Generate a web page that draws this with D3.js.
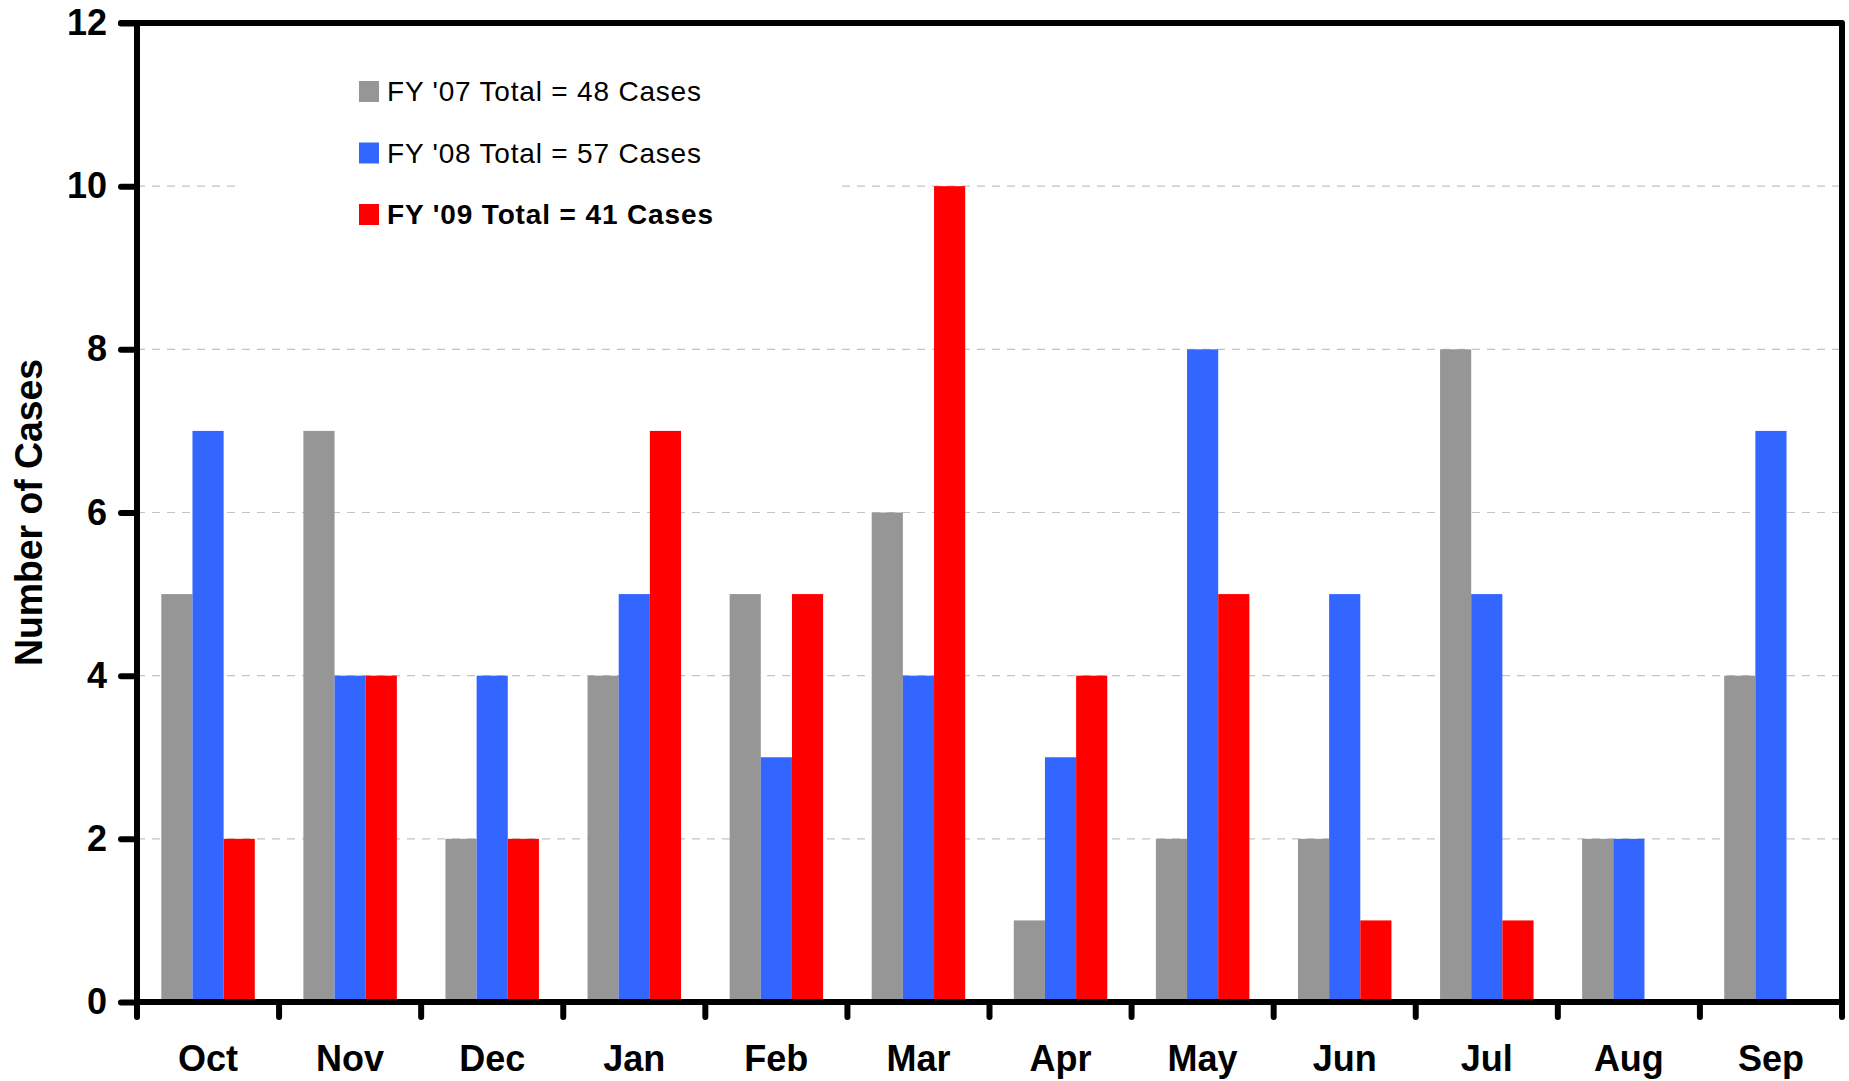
<!DOCTYPE html>
<html>
<head>
<meta charset="utf-8">
<script src="https://cdn.jsdelivr.net/npm/d3@7"></script>
<style>
  body { margin: 0; background: #fff; }
  svg text { font-family: "Liberation Sans", Arial, sans-serif; }
</style>
</head>
<body>
<svg id="chart" width="1849" height="1081"></svg>
<script>
// chart data
const months = ["Oct", "Nov", "Dec", "Jan", "Feb", "Mar", "Apr", "May", "Jun", "Jul", "Aug", "Sep"];
const fy07 = [5, 7, 2, 4, 5, 6, 1, 2, 2, 8, 2, 4];
const fy08 = [7, 4, 4, 5, 3, 4, 3, 8, 5, 5, 2, 7];
const fy09 = [2, 4, 2, 7, 5, 10, 4, 5, 1, 1, null, null];
const seriesNames = ["FY '07 Total = 48 Cases", "FY '08 Total = 57 Cases", "FY '09 Total = 41 Cases"];
const yTicks = [0, 2, 4, 6, 8, 10, 12];

const colors = ["#969696", "#3366FF", "#FF0000"];

// plot frame
const plotLeft = 137, plotRight = 1842, plotTop = 23, plotBottom = 1002;

const svg = d3.select("svg#chart");

const x = d3.scaleBand()
    .domain(months)
    .range([plotLeft, plotRight])
    .paddingInner(0)
    .paddingOuter(0);

const x1 = d3.scaleBand()
    .domain([0, 1, 2])
    .range([0, x.bandwidth()])
    .paddingOuter(0.78)
    .paddingInner(0);

const y = d3.scaleLinear()
    .domain([0, 12])
    .range([plotBottom, plotTop]);

// gridlines
svg.append("g")
    .attr("class", "grid")
    .selectAll("line")
    .data(yTicks.filter(d => d > 0 && d < 12))
    .enter()
    .append("line")
    .attr("x1", plotLeft)
    .attr("x2", plotRight)
    .attr("y1", d => y(d))
    .attr("y2", d => y(d))
    .attr("stroke", "#c4c4c4")
    .attr("stroke-width", 1.2)
    .attr("stroke-dasharray", "8,7");

// bars
const series = [fy07, fy08, fy09];
const rows = months.map((m, i) => ({ month: m, values: series.map(s => s[i]) }));

const group = svg.append("g")
    .attr("class", "bars")
    .selectAll("g")
    .data(rows)
    .enter()
    .append("g")
    .attr("transform", d => `translate(${x(d.month)},0)`);

group.selectAll("rect")
    .data(d => d.values.map((v, k) => ({ k, v })).filter(e => e.v != null))
    .enter()
    .append("rect")
    .attr("x", d => x1(d.k))
    .attr("width", x1.bandwidth())
    .attr("y", d => y(d.v))
    .attr("height", d => y(0) - y(d.v))
    .attr("fill", d => colors[d.k]);

// legend with white background
const legend = svg.append("g").attr("class", "legend");
legend.append("rect")
    .attr("x", 236)
    .attr("y", 45)
    .attr("width", 600)
    .attr("height", 195)
    .attr("fill", "#fff");

const item = legend.selectAll(".series")
    .data(seriesNames)
    .enter()
    .append("g")
    .attr("class", "series")
    .attr("transform", (d, i) => `translate(0, ${91 + i * 61.5})`);

item.append("rect")
    .attr("x", 359)
    .attr("y", -10)
    .attr("width", 20)
    .attr("height", 21)
    .attr("fill", (d, i) => colors[i]);

item.append("text")
    .attr("x", 387)
    .attr("y", 10)
    .attr("font-size", 28)
    .attr("font-weight", (d, i) => i === 2 ? "bold" : "normal")
    .attr("textLength", (d, i) => i === 2 ? 326 : 314)
    .attr("lengthAdjust", "spacing")
    .attr("fill", "#000")
    .text(d => d);

// frame: top and right lines
svg.append("path")
    .attr("d", `M${plotLeft - 16},${plotTop} L${plotRight},${plotTop} L${plotRight},${plotBottom}`)
    .attr("fill", "none")
    .attr("stroke", "#000")
    .attr("stroke-width", 6)
    .attr("stroke-linejoin", "round")
    .attr("stroke-linecap", "round");

// y axis
const yAxis = svg.append("g")
    .attr("transform", `translate(${plotLeft},0)`)
    .call(d3.axisLeft(y).tickValues(yTicks).tickSize(16).tickPadding(14));

yAxis.select(".domain")
    .attr("d", `M0,${plotTop}V${plotBottom}`)
    .attr("stroke-width", 6);
yAxis.selectAll(".tick line")
    .attr("stroke-width", 6)
    .attr("stroke-linecap", "round");
yAxis.selectAll(".tick text")
    .attr("font-size", 36)
    .attr("font-weight", "bold")
    .attr("font-family", "Liberation Sans, Arial, sans-serif")
    .attr("fill", "#000");

// x axis: ticks at band edges
const xAxis = svg.append("g")
    .attr("transform", `translate(0,${plotBottom})`);

xAxis.append("line")
    .attr("x1", plotLeft)
    .attr("x2", plotRight)
    .attr("stroke", "#000")
    .attr("stroke-width", 6)
    .attr("stroke-linecap", "round");

const edges = months.map(m => x(m)).concat([plotRight]);
xAxis.selectAll(".edge")
    .data(edges)
    .enter()
    .append("line")
    .attr("class", "edge")
    .attr("x1", d => d)
    .attr("x2", d => d)
    .attr("y1", 0)
    .attr("y2", 15)
    .attr("stroke", "#000")
    .attr("stroke-width", 6)
    .attr("stroke-linecap", "round");

xAxis.selectAll(".label")
    .data(months)
    .enter()
    .append("text")
    .attr("class", "label")
    .attr("x", d => x(d) + x.bandwidth() / 2)
    .attr("y", 69)
    .attr("text-anchor", "middle")
    .attr("font-size", 36)
    .attr("font-weight", "bold")
    .attr("fill", "#000")
    .text(d => d);

// y axis title
svg.append("text")
    .attr("transform", `translate(42, ${(plotTop + plotBottom) / 2}) rotate(-90)`)
    .attr("text-anchor", "middle")
    .attr("font-size", 39)
    .attr("font-weight", "bold")
    .attr("textLength", 307)
    .attr("lengthAdjust", "spacingAndGlyphs")
    .attr("fill", "#000")
    .text("Number of Cases");
</script>
</body>
</html>
